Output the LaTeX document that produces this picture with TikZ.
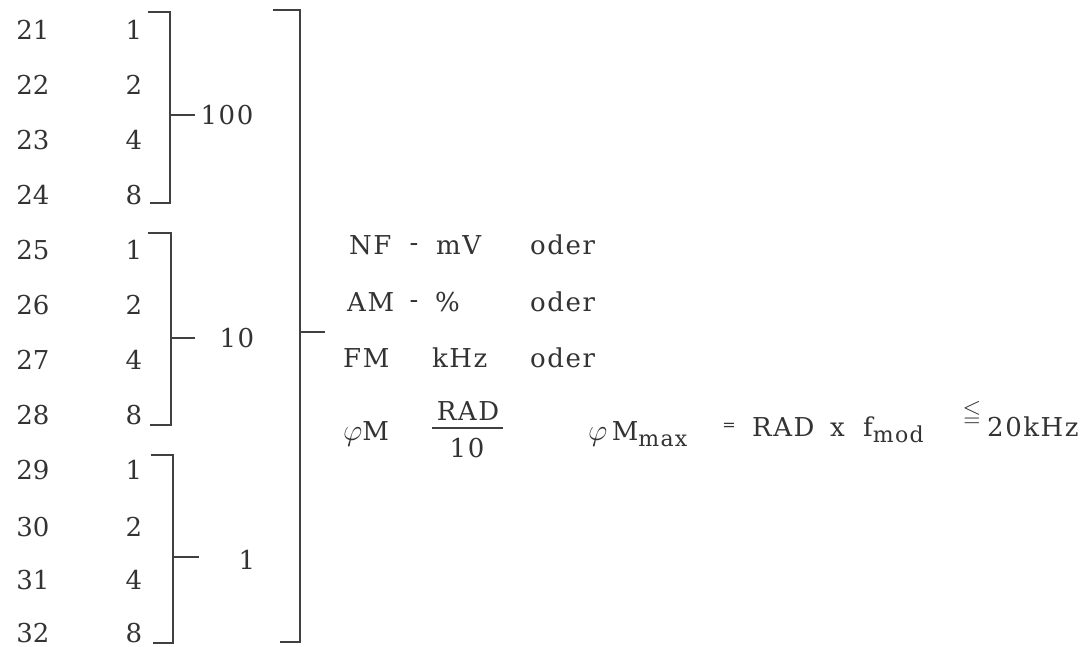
\RequirePackage{fix-cm}
\documentclass[tikz,border=0pt]{standalone}
\usepackage{amssymb}
\usepackage{fontspec}
\setmainfont{DejaVu Serif}
\begin{document}
\begin{tikzpicture}[x=1pt,y=-1pt,
  every node/.style={inner sep=0pt, text=black!80, font=\fontsize{26}{30}\selectfont},
  wide/.style={font=\fontsize{26}{30}\selectfont\addfontfeature{LetterSpace=6}},
  ln/.style={line width=1.3pt, draw=black!75}]
\useasboundingbox (0,0) rectangle (1088,647);
% left columns
\foreach \a/\b/\y [count=\i] in {21/1/30,22/2/85,23/4/140,24/8/195,25/1/250,26/2/305,27/4/360,28/8/415,29/1/470,30/2/527,31/4/580,32/8/633}{
  \node (n\i) at (33,\y) {\a};
  \node (v\i) at (134,\y) {\b};
}
% inner brackets
\coordinate (b1t) at (148,12);  \coordinate (b1b) at (150,203); \coordinate (b1m) at (170,115);
\coordinate (b2t) at (148,233); \coordinate (b2b) at (150,425); \coordinate (b2m) at (171,338);
\coordinate (b3t) at (151,455); \coordinate (b3b) at (153,643); \coordinate (b3m) at (173,557);
\draw[ln] (b1t) -- (170,12) -- (170,203) -- (b1b);
\draw[ln] (b2t) -- (171,233) -- (171,425) -- (b2b);
\draw[ln] (b3t) -- (173,455) -- (173,643) -- (b3b);
\coordinate (t1) at (195,115);
\coordinate (t2) at (195,338);
\coordinate (t3) at (199,557);
\draw[ln] (b1m) -- (t1);
\draw[ln] (b2m) -- (t2);
\draw[ln] (b3m) -- (t3);
\node[wide] (l100) at (227,115) {100};
\node[wide] (l10) at (237,338) {10};
\node (l1) at (247,560) {1};
% outer bracket
\coordinate (ot) at (273,10); \coordinate (ob) at (280,642); \coordinate (om) at (300,332);
\draw[ln] (ot) -- (300,10) -- (300,642) -- (ob);
\coordinate (ote) at (325,332);
\draw[ln] (om) -- (ote);
% right text
\node[wide,anchor=base west] (nf) at (349,255) {NF};
\node[anchor=center] (d1) at (414,248) {-};
\node[wide,anchor=base west] (mv) at (436,255) {mV};
\node[wide,anchor=base west] (o1) at (530,255) {oder};
\node[wide,anchor=base west] (am) at (347,312) {AM};
\node[anchor=center] (d2) at (414,305) {-};
\node[anchor=base west] (pc) at (435,312) {\%};
\node[wide,anchor=base west] (o2) at (530,312) {oder};
\node[wide,anchor=base west] (fm) at (343,367) {FM};
\node[wide,anchor=base west] (khz) at (432,367) {kHz};
\node[wide,anchor=base west] (o3) at (530,367) {oder};
\node[anchor=base west] (phim) at (343,440) {\fontsize{30}{34}\selectfont$\varphi$\fontsize{26}{30}\selectfont M};
\node[wide,anchor=base] (rad) at (468,420) {RAD};
\node[wide,anchor=base] (ten) at (467,457) {10};
\draw[line width=1.6pt, draw=black!75] (432,428) -- (503,428);
\node[anchor=base west] (phimax) at (588,440) {\fontsize{30}{34}\selectfont$\varphi$\fontsize{26}{30}\selectfont\,M\raisebox{-6pt}{\fontsize{22}{26}\selectfont\addfontfeature{LetterSpace=6}max}};
\node (eq) at (729,427) {\fontsize{16}{18}\selectfont =};
\node[wide,anchor=base west] (rad2) at (752,436) {RAD};
\node[anchor=base west] (x) at (830,436) {x};
\node[anchor=base west] (f) at (863,436) {f\raisebox{-6pt}{\fontsize{22}{26}\selectfont\addfontfeature{LetterSpace=6}mod}};
\node (leq) at (972,413) {\fontsize{24}{26}\selectfont $\leqq$};
\node[wide,anchor=base west] (khz2) at (987,436) {20kHz};
\end{tikzpicture}
\end{document}
